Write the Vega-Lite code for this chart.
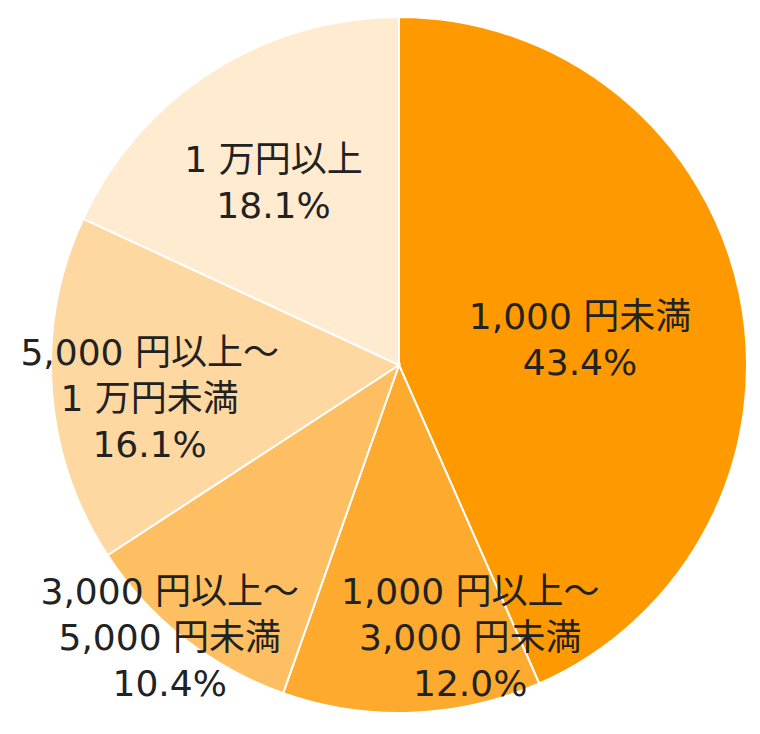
{
  "$schema": "https://vega.github.io/schema/vega-lite/v6.json",
  "width": 722,
  "height": 730,
  "autosize": "none",
  "padding": {"left": 38, "top": 0, "right": 0, "bottom": 4},
  "background": "white",
  "config": {"view": {"stroke": null}},
  "data": {
    "values": [
      {"rank": 1, "category": "1,000円未満", "label": "1,000 円未満\n43.4%", "pct": 43.4},
      {"rank": 2, "category": "1,000円以上～3,000円未満", "label": "1,000 円以上～\n3,000 円未満\n12.0%", "pct": 12.0},
      {"rank": 3, "category": "3,000円以上～5,000円未満", "label": "3,000 円以上～\n5,000 円未満\n10.4%", "pct": 10.4},
      {"rank": 4, "category": "5,000円以上～1万円未満", "label": "5,000 円以上～\n1 万円未満\n16.1%", "pct": 16.1},
      {"rank": 5, "category": "1万円以上", "label": "1 万円以上\n18.1%", "pct": 18.1}
    ]
  },
  "encoding": {
    "theta": {"field": "pct", "type": "quantitative", "stack": true},
    "order": {"field": "rank", "type": "quantitative"}
  },
  "layer": [
    {
      "mark": {"type": "arc", "radius": 348, "stroke": "white", "strokeWidth": 2},
      "encoding": {
        "color": {
          "field": "category",
          "type": "nominal",
          "sort": null,
          "legend": null,
          "scale": {
            "domain": ["1,000円未満", "1,000円以上～3,000円未満", "3,000円以上～5,000円未満", "5,000円以上～1万円未満", "1万円以上"],
            "range": ["#FF9900", "#FDAA2E", "#FDBF62", "#FED8A0", "#FEEBD0"]
          }
        }
      }
    },
    {
      "mark": {"type": "text", "radius": 185, "dy": -9, "font": "DejaVu Sans, Noto Sans CJK JP", "fontSize": 36, "lineHeight": 46, "lineBreak": "\n", "color": "#222222", "align": "center", "baseline": "middle"},
      "encoding": {"text": {"condition": {"test": "datum.rank === 1", "field": "label"}, "value": ""}}
    },
    {
      "mark": {"type": "text", "radius": 272, "dx": 61, "dy": -44, "font": "DejaVu Sans, Noto Sans CJK JP", "fontSize": 36, "lineHeight": 46, "lineBreak": "\n", "color": "#222222", "align": "center", "baseline": "middle"},
      "encoding": {"text": {"condition": {"test": "datum.rank === 2", "field": "label"}, "value": ""}}
    },
    {
      "mark": {"type": "text", "radius": 350, "dx": -13, "dy": -47, "font": "DejaVu Sans, Noto Sans CJK JP", "fontSize": 36, "lineHeight": 46, "lineBreak": "\n", "color": "#222222", "align": "center", "baseline": "middle"},
      "encoding": {"text": {"condition": {"test": "datum.rank === 3", "field": "label"}, "value": ""}}
    },
    {
      "mark": {"type": "text", "radius": 250, "dy": -29, "font": "DejaVu Sans, Noto Sans CJK JP", "fontSize": 36, "lineHeight": 46, "lineBreak": "\n", "color": "#222222", "align": "center", "baseline": "middle"},
      "encoding": {"text": {"condition": {"test": "datum.rank === 4", "field": "label"}, "value": ""}}
    },
    {
      "mark": {"type": "text", "radius": 220, "dx": -7, "dy": -19, "font": "DejaVu Sans, Noto Sans CJK JP", "fontSize": 36, "lineHeight": 46, "lineBreak": "\n", "color": "#222222", "align": "center", "baseline": "middle"},
      "encoding": {"text": {"condition": {"test": "datum.rank === 5", "field": "label"}, "value": ""}}
    }
  ]
}
